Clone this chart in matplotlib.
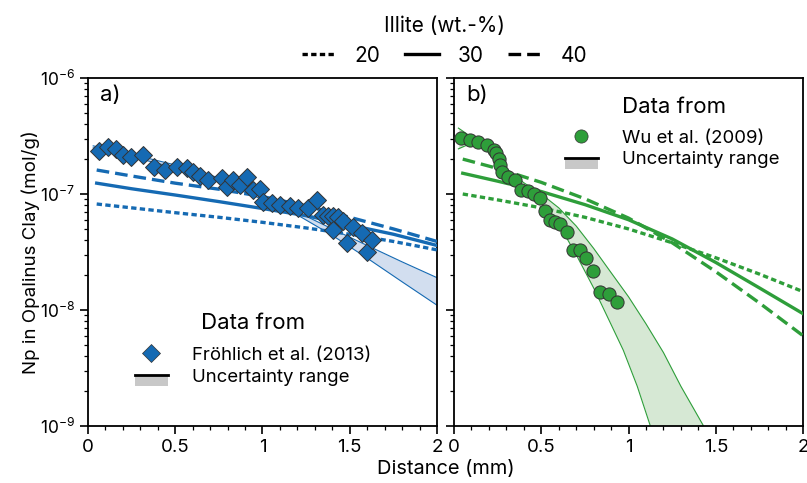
import numpy as np
import matplotlib
matplotlib.use("Agg")
import matplotlib.pyplot as plt
from matplotlib.lines import Line2D
from matplotlib.patches import Rectangle
from matplotlib.legend_handler import HandlerBase

plt.rcParams['font.family'] = ['Inter', 'DejaVu Sans']
plt.rcParams['font.size'] = 13

# ---- panel a) Froehlich et al. (2013) ----
a_x = [0.065, 0.117, 0.160, 0.203, 0.246, 0.317, 0.380, 0.441, 0.508, 0.565,
       0.604, 0.642, 0.690, 0.766, 0.795, 0.833, 0.871, 0.909, 0.948, 0.986,
       1.005, 1.053, 1.100, 1.158, 1.205, 1.262, 1.310, 1.348, 1.377, 1.406,
       1.434, 1.463, 1.406, 1.482, 1.520, 1.568, 1.597, 1.626]
a_y = [2.35e-7, 2.52e-7, 2.43e-7, 2.18e-7, 2.07e-7, 2.17e-7, 1.72e-7, 1.61e-7, 1.72e-7, 1.66e-7,
       1.56e-7, 1.43e-7, 1.32e-7, 1.37e-7, 1.16e-7, 1.32e-7, 1.20e-7, 1.39e-7, 1.08e-7, 1.10e-7,
       8.6e-8, 8.4e-8, 8.0e-8, 7.9e-8, 7.5e-8, 7.5e-8, 8.9e-8, 6.6e-8, 6.4e-8, 6.4e-8,
       6.3e-8, 5.8e-8, 4.9e-8, 3.76e-8, 5.2e-8, 4.6e-8, 3.18e-8, 4.0e-8]

# model curves for 20 / 30 / 40 wt.-% illite
mod_x = [0.05, 0.25, 0.5, 0.75, 1.0, 1.25, 1.5, 1.75, 2.0]
a_m20 = [8.2e-8, 7.6e-8, 6.9e-8, 6.3e-8, 5.7e-8, 5.1e-8, 4.5e-8, 3.9e-8, 3.3e-8]
a_m30 = [1.24e-7, 1.11e-7, 9.8e-8, 8.6e-8, 7.5e-8, 6.5e-8, 5.4e-8, 4.5e-8, 3.6e-8]
a_m40 = [1.61e-7, 1.43e-7, 1.24e-7, 1.10e-7, 9.5e-8, 7.9e-8, 6.3e-8, 5.0e-8, 3.9e-8]

a_bx = [0.03, 0.25, 0.5, 0.75, 1.0, 1.2, 1.4, 1.6, 1.8, 2.0]
a_bhi = [2.6e-7, 2.2e-7, 1.78e-7, 1.38e-7, 9.8e-8, 7.0e-8, 5.0e-8, 3.6e-8, 2.6e-8, 1.9e-8]
a_blo = [2.5e-7, 2.1e-7, 1.68e-7, 1.28e-7, 9.0e-8, 6.6e-8, 4.4e-8, 2.8e-8, 1.75e-8, 1.1e-8]

# ---- panel b) Wu et al. (2009) ----
b_x = [0.038, 0.092, 0.138, 0.189, 0.231, 0.243, 0.256, 0.266, 0.275, 0.308,
       0.349, 0.382, 0.425, 0.459, 0.493, 0.521, 0.552, 0.581, 0.609, 0.650,
       0.684, 0.720, 0.758, 0.795, 0.839, 0.886, 0.934]
b_y = [3.02e-7, 2.94e-7, 2.82e-7, 2.64e-7, 2.41e-7, 2.26e-7, 2.01e-7, 1.78e-7, 1.56e-7, 1.39e-7,
       1.33e-7, 1.09e-7, 1.06e-7, 1.01e-7, 9.3e-8, 7.1e-8, 6.0e-8, 5.7e-8, 5.5e-8, 4.7e-8,
       3.29e-8, 3.29e-8, 2.8e-8, 2.18e-8, 1.42e-8, 1.37e-8, 1.17e-8]

b_m20 = [1.0e-7, 8.9e-8, 7.6e-8, 6.3e-8, 5.0e-8, 3.8e-8, 2.82e-8, 2.04e-8, 1.44e-8]
b_m30 = [1.51e-7, 1.29e-7, 1.05e-7, 8.1e-8, 6.0e-8, 4.1e-8, 2.57e-8, 1.55e-8, 9.3e-9]
b_m40 = [2.0e-7, 1.66e-7, 1.26e-7, 9.1e-8, 6.2e-8, 3.8e-8, 2.14e-8, 1.15e-8, 6.0e-9]

b_bx = [0.025, 0.1, 0.2, 0.25, 0.3, 0.4, 0.5, 0.6, 0.7, 0.8, 0.9, 1.0, 1.1, 1.2, 1.3, 1.43]
b_bhi = [3.7e-7, 3.1e-7, 2.75e-7, 2.2e-7, 1.65e-7, 1.25e-7, 1.0e-7, 7.6e-8, 5.3e-8, 3.4e-8,
         2.1e-8, 1.3e-8, 7.6e-9, 4.3e-9, 2.2e-9, 1.0e-9]
b_blo_x = [0.025, 0.1, 0.2, 0.25, 0.3, 0.4, 0.5, 0.6, 0.7, 0.8, 0.9, 0.97, 1.05, 1.125]
b_blo = [2.45e-7, 2.75e-7, 2.5e-7, 2.0e-7, 1.4e-7, 1.05e-7, 8.2e-8, 5.5e-8, 3.0e-8, 1.55e-8,
         7.5e-9, 4.5e-9, 2.2e-9, 1.0e-9]

illite = ['20', '30', '40']

blue = '#156ab3'
green = '#2e9e3a'
dot = (0, (1.6, 1.0))
dash = (0, (3.8, 1.8))
LW = 2.4


class HandlerBand(HandlerBase):
    # black line on top of a grey box, like the original legend
    def create_artists(self, legend, orig_handle, xdescent, ydescent,
                       width, height, fontsize, trans):
        yc = -ydescent + height / 2
        rect = Rectangle((-xdescent, yc - 0.85 * height), width, 0.85 * height,
                         facecolor='#c8c8c8', edgecolor='none', transform=trans)
        line = Line2D([-xdescent, -xdescent + width], [yc, yc], color='k',
                      lw=2, transform=trans)
        return [rect, line]


def panel(ax, color, fill, x, y, marker, ms, m20, m30, m40,
          bx_hi, bhi, bx_lo, blo):
    # uncertainty band
    xx = np.linspace(min(bx_hi[0], bx_lo[0]), max(bx_hi[-1], bx_lo[-1]), 300)
    hi = 10 ** np.interp(xx, bx_hi, np.log10(bhi))
    lo = 10 ** np.interp(xx, bx_lo, np.log10(blo))
    ax.fill_between(xx, lo, hi, color=fill, lw=0, zorder=1)
    ax.plot(bx_hi, bhi, color=color, lw=0.8, zorder=2)
    ax.plot(bx_lo, blo, color=color, lw=0.8, zorder=2)
    # model lines
    ax.plot(mod_x, m20, color=color, lw=LW, ls=dot, zorder=3)
    ax.plot(mod_x, m30, color=color, lw=LW, ls='-', zorder=3)
    ax.plot(mod_x, m40, color=color, lw=LW, ls=dash, zorder=3)
    # data
    ax.plot(x, y, ls='none', marker=marker, ms=ms, mfc=color, mec='#333333',
            mew=0.7, zorder=4)
    ax.set_yscale('log')
    ax.set_xlim(0, 2)
    ax.set_ylim(1e-9, 1e-6)
    ax.set_xticks([0, 0.5, 1, 1.5, 2])
    ax.set_xticklabels(['0', '0.5', '1', '1.5', '2'])
    ax.set_xticks(np.arange(0, 2.01, 0.1), minor=True)
    ax.tick_params(which='major', length=6, width=1.2, labelsize=13.5)
    ax.tick_params(axis='y', labelsize=12.5)
    ax.tick_params(which='minor', length=3, width=0.9)
    for s in ax.spines.values():
        s.set_linewidth(1.3)
    return [Line2D([], [], ls='none', marker=marker, ms=ms, mfc=color,
                   mec='#333333', mew=0.5),
            Rectangle((0, 0), 1, 1)]


fig = plt.figure(figsize=(8.07, 4.83), dpi=100)
ax1 = fig.add_axes([0.109, 0.118, 0.4325, 0.7205])
ax2 = fig.add_axes([0.5626, 0.118, 0.4325, 0.7205])

h1 = panel(ax1, blue, '#d2deef', a_x, a_y, 'D', 8.8, a_m20, a_m30, a_m40,
           a_bx, a_bhi, a_bx, a_blo)
h2 = panel(ax2, green, '#d6e8d4', b_x, b_y, 'o', 9.5, b_m20, b_m30, b_m40,
           b_bx, b_bhi, b_blo_x, b_blo)
ax2.tick_params(labelleft=False)

ax1.text(0.034, 0.951, 'a)', transform=ax1.transAxes, fontsize=16, va='center')
ax2.text(0.036, 0.951, 'b)', transform=ax2.transAxes, fontsize=16, va='center')

# legends: "Data from" title written separately to get its spacing
leg_kw = dict(handler_map={Rectangle: HandlerBand()}, frameon=False,
              fontsize=13.4, loc='center', handlelength=1.8,
              handletextpad=1.3, labelspacing=0.25)
ax1.legend(h1, ['Fröhlich et al. (2013)', 'Uncertainty range'],
           bbox_to_anchor=(0.473, 0.172), **leg_kw)
ax1.text(0.473, 0.296, 'Data from', transform=ax1.transAxes, fontsize=16,
         ha='center', va='center')
ax2.legend(h2, ['Wu et al. (2009)', 'Uncertainty range'],
           bbox_to_anchor=(0.625, 0.796), **leg_kw)
ax2.text(0.630, 0.917, 'Data from', transform=ax2.transAxes, fontsize=16,
         ha='center', va='center')

ill = [Line2D([], [], color='k', lw=LW, ls=dot),
       Line2D([], [], color='k', lw=LW, ls='-'),
       Line2D([], [], color='k', lw=LW, ls=dash)]
fig.legend(ill, illite, ncol=3, frameon=False, loc='upper center',
           bbox_to_anchor=(0.551, 1.005), title='Illite (wt.-%)',
           title_fontsize=15, fontsize=15, handlelength=1.6,
           columnspacing=1.2, handletextpad=0.9, labelspacing=0.45)

fig.text(0.553, 0.03, 'Distance (mm)', ha='center', va='center', fontsize=14.4)
fig.text(0.038, 0.478, 'Np in Opalinus Clay (mol/g)', ha='center',
         va='center', rotation=90, fontsize=13.5)

fig.savefig('out.png', dpi=100)
